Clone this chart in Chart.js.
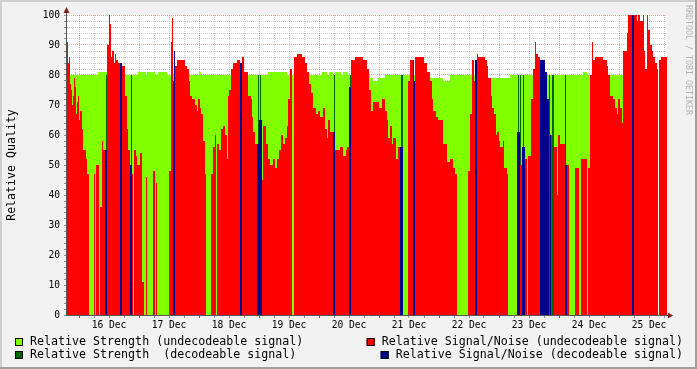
<!DOCTYPE html>
<html><head><meta charset="utf-8">
<script src="https://cdn.jsdelivr.net/npm/chart.js@4.4.1/dist/chart.umd.min.js"></script>
<style>html,body{margin:0;padding:0;background:#F2F2F2;overflow:hidden}canvas{display:block}</style>
</head><body>
<canvas id="c" width="697" height="369"></canvas>
<script>
// x unit = one 24-minute sample, sample 0 = 15 Dec 19:12
const totalSamples = 600;
const firstMidnightSample = 12;   // 16 Dec 00:00
const samplesPerDay = 60;
const samplesPer6h = 15;
const dayLabels = ['16 Dec','17 Dec','18 Dec','19 Dec','20 Dec','21 Dec','22 Dec','23 Dec','24 Dec','25 Dec'];
const yTickValues = [0,10,20,30,40,50,60,70,80,90,100];

// runs: [startSample, value] — value holds until the next run starts (null = no data)
const strengthUndecodeable = [
 [0,80],[8,81],[9,80],[31,81],[40,80],[71,81],[79,80],[80,81],[88,80],[91,81],[100,80],
 [132,81],[134,80],[201,81],[220,80],[255,81],[260,80],[262,81],[266,80],[268,81],[274,80],
 [276,81],[281,80],[303,79],[306,78],[311,79],[318,80],[363,79],[376,78],[383,80],
 [421,79],[443,80],[516,81],[520,80],[591,null],[592,80]
];
const snrUndecodeable = [
 [0,91],[1,84],[2,86],[3,77],[4,75],[5,70],[6,73],[7,79],[8,76],[9,67],[10,71],[11,73],
 [12,65],[13,68],[15,62],[16,55],[19,52],[20,47],[22,null],[27,47],[28,null],[29,50],
 [32,null],[33,36],[35,58],[36,55],[38,null],[40,90],[42,100],[43,97],[44,86],[45,88],
 [47,84],[48,87],[49,85],[51,84],[53,null],[55,83],[58,73],[60,62],[61,55],[63,null],
 [65,47],[66,null],[67,55],[69,53],[70,50],[73,54],[75,11],[77,null],[79,46],[80,null],
 [86,48],[88,null],[89,44],[90,null],[102,48],[104,91],[105,99],[106,null],[108,83],
 [110,85],[118,83],[120,82],[122,78],[123,73],[125,72],[128,70],[130,68],[131,72],
 [133,69],[134,67],[136,58],[138,47],[139,null],[144,47],[146,56],[148,60],[149,null],
 [150,57],[152,55],[154,62],[156,63],[158,60],[160,52],[161,73],[162,75],[164,82],
 [166,84],[170,85],[173,null],[175,86],[177,81],[181,73],[184,72],[185,66],[186,61],
 [188,57],[190,null],[195,45],[196,63],[199,57],[201,52],[203,50],[206,52],[208,49],
 [210,52],[212,55],[214,60],[216,57],[218,59],[220,63],[221,72],[223,82],[225,null],
 [227,86],[230,87],[235,86],[238,84],[240,81],[242,77],[244,74],[246,69],[249,67],
 [251,68],[253,66],[256,69],[258,62],[260,59],[261,65],[263,61],[266,null],[268,55],
 [273,56],[276,53],[279,55],[280,56],[282,null],[284,85],[288,86],[296,85],[300,82],
 [302,75],[304,68],[306,71],[312,69],[315,72],[318,68],[320,65],[321,59],[323,63],
 [325,57],[326,59],[329,52],[331,56],[333,null],[341,78],[343,85],[346,null],[348,86],
 [357,84],[360,81],[363,78],[365,72],[366,68],[369,66],[371,65],[376,57],[380,51],
 [383,52],[386,49],[388,47],[390,null],[401,48],[403,67],[405,85],[407,78],[408,null],
 [410,87],[411,86],[418,85],[420,83],[421,79],[424,73],[425,69],[427,67],[429,60],
 [430,61],[432,58],[433,56],[436,58],[437,49],[440,47],[441,null],[453,50],[455,null],
 [458,52],[460,null],[461,53],[464,72],[466,82],[468,91],[469,87],[471,86],[473,null],
 [484,60],[485,null],[487,56],[490,40],[491,60],[493,57],[498,null],[500,50],[502,null],
 [508,49],[512,null],[514,52],[520,null],[521,49],[523,80],[525,91],[526,85],[528,86],
 [536,85],[540,83],[541,80],[543,73],[546,72],[548,69],[550,67],[551,72],[553,69],
 [555,64],[556,88],[560,94],[561,100],[565,null],[567,100],[570,98],[571,100],[573,98],
 [576,100],[577,88],[578,82],[580,100],[581,95],[583,90],[585,88],[586,86],[588,84],
 [590,82],[591,null],[592,85],[594,86]
];
const strengthDecodeable = [
 [0,null],[39,80],[40,null],[64,80],[65,null],[191,80],[192,null],[193,80],[194,null],
 [267,80],[268,null],[283,80],[284,null],[334,80],[336,null],[451,80],[452,null],
 [453,80],[454,null],[456,80],[457,null],[482,80],[483,null],[485,80],[487,null],
 [498,80],[499,null]
];
const snrDecodeable = [
 [0,null],[38,55],[40,null],[53,84],[55,null],[63,50],[65,null],[106,78],[107,88],[108,null],
 [173,84],[175,null],[190,57],[192,65],[195,null],[266,61],[268,null],[282,76],[284,null],
 [333,56],[336,null],[346,85],[347,78],[348,null],[408,85],[410,null],[450,61],[453,null],
 [455,56],[458,null],[473,85],[478,81],[480,72],[482,null],[483,60],[484,null],
 [498,50],[500,null],[565,100],[567,null]
];

const GREEN = '#7FFF00', RED = '#FF0000', DGREEN = '#006400', BLUE = '#00008B';
const GRID = 'rgba(143,143,143,0.45)', MGRID = 'rgba(222,79,79,0.5)';
const MONO = '"DejaVu Sans Mono", monospace';

function toSteps(runs) {
  const pts = [];
  runs.forEach(([s, v], i) => {
    const next = runs[i + 1];
    const end = next ? next[0] : totalSamples;
    if (v === null) { pts.push({x: s, y: null}); return; }
    pts.push({x: s, y: v});
    if (!next || next[1] === null) pts.push({x: end, y: v});
  });
  return pts;
}
function ds(label, runs, color, order) {
  return {label, data: toSteps(runs), stepped: true, fill: 'origin', backgroundColor: color,
    borderColor: 'rgba(0,0,0,0)', borderWidth: 0, pointRadius: 0, pointHoverRadius: 0,
    spanGaps: false, order};
}
const sixHourTicks = [];
for (let v = firstMidnightSample; v < totalSamples; v += samplesPer6h) sixHourTicks.push(v);
const isMidnight = v => (v - firstMidnightSample) % samplesPerDay === 0;

const legendItems = [
  {text: 'Relative Strength (undecodeable signal)', color: GREEN, col: 0, row: 0},
  {text: 'Relative Signal/Noise (undecodeable signal)', color: RED, col: 1, row: 0},
  {text: 'Relative Strength  (decodeable signal)', color: DGREEN, col: 0, row: 1},
  {text: 'Relative Signal/Noise (decodeable signal)', color: BLUE, col: 1, row: 1}
];

const rrdDecor = {
  id: 'rrdDecor',
  beforeDraw(chart) {
    const {ctx, chartArea: a, width, height} = chart;
    ctx.save();
    ctx.fillStyle = '#F2F2F2'; ctx.fillRect(0, 0, width, height);
    ctx.fillStyle = '#FFFFFF'; ctx.fillRect(a.left, a.top, a.right - a.left, a.bottom - a.top);
    ctx.restore();
  },
  afterDraw(chart) {
    const {ctx, chartArea: a, width, height} = chart;
    ctx.save();
    ctx.fillStyle = '#CFCFCF'; ctx.fillRect(0, 0, width, 2); ctx.fillRect(0, 0, 2, height);
    ctx.fillStyle = '#9E9E9E'; ctx.fillRect(0, height - 2, width, 2); ctx.fillRect(width - 2, 0, 2, height);
    ctx.strokeStyle = '#555'; ctx.lineWidth = 1;
    ctx.beginPath();
    ctx.moveTo(a.left - 0.5, a.bottom + 0.5); ctx.lineTo(a.right + 3, a.bottom + 0.5);
    ctx.moveTo(a.left - 0.5, a.bottom + 0.5); ctx.lineTo(a.left - 0.5, a.top - 4);
    ctx.stroke();
    ctx.fillStyle = '#801F1F';
    ctx.beginPath();
    ctx.moveTo(a.left - 0.5, a.top - 8); ctx.lineTo(a.left - 3.5, a.top - 2); ctx.lineTo(a.left + 2.5, a.top - 2);
    ctx.closePath(); ctx.fill();
    ctx.beginPath();
    ctx.moveTo(a.right + 6, a.bottom + 0.5); ctx.lineTo(a.right + 1, a.bottom - 2.5); ctx.lineTo(a.right + 1, a.bottom + 3.5);
    ctx.closePath(); ctx.fill();
    ctx.font = '11.65px ' + MONO;
    ctx.textBaseline = 'alphabetic';
    legendItems.forEach(it => {
      const base = it.row === 0 ? 345 : 358;
      const tx = it.col === 0 ? 30 : 683 - ctx.measureText(it.text).width;
      const bx = tx - 15;
      ctx.fillStyle = it.color; ctx.fillRect(bx, base - 7, 8, 8);
      ctx.strokeStyle = '#000'; ctx.lineWidth = 1; ctx.strokeRect(bx + 0.5, base - 6.5, 7, 7);
      ctx.fillStyle = '#000'; ctx.textAlign = 'left'; ctx.fillText(it.text, tx, base);
    });
    ctx.translate(688.5, 5); ctx.rotate(Math.PI / 2);
    ctx.font = '8.3px ' + MONO; ctx.fillStyle = '#B4B4B4';
    ctx.textBaseline = 'middle'; ctx.textAlign = 'left';
    ctx.fillText('RRDTOOL / TOBI OETIKER', 0, 0);
    ctx.restore();
  }
};

new Chart(document.getElementById('c'), {
  type: 'line',
  data: {datasets: [
    ds('Relative Signal/Noise (decodeable signal)', snrDecodeable, BLUE, 0),
    ds('Relative Signal/Noise (undecodeable signal)', snrUndecodeable, RED, 1),
    ds('Relative Strength  (decodeable signal)', strengthDecodeable, DGREEN, 2),
    ds('Relative Strength (undecodeable signal)', strengthUndecodeable, GREEN, 3)
  ]},
  options: {
    responsive: false, animation: false, devicePixelRatio: 1,
    layout: {padding: {left: 0, right: 30, top: 15, bottom: 34}},
    plugins: {legend: {display: false}, tooltip: {enabled: false}},
    elements: {line: {tension: 0}},
    scales: {
      x: {
        type: 'linear', min: 0, max: totalSamples, z: 1,
        afterBuildTicks: s => { s.ticks = sixHourTicks.map(v => ({value: v})); },
        afterFit: s => { s.height = 20; },
        grid: {
          color: c => (c.tick && isMidnight(c.tick.value)) ? MGRID : GRID,
          tickColor: c => (c.tick && isMidnight(c.tick.value)) ? '#C04040' : '#909090',
          tickLength: 3, lineWidth: 1
        },
        border: {display: false, dash: [1, 1]},
        ticks: {
          autoSkip: false, maxRotation: 0, minRotation: 0, padding: 2, color: '#000',
          font: {family: MONO, size: 9.6},
          callback: v => {
            const k = (v - firstMidnightSample - samplesPerDay / 2) / samplesPerDay;
            return (Number.isInteger(k) && dayLabels[k]) ? dayLabels[k] : '';
          }
        }
      },
      y: {
        type: 'linear', min: 0, max: 100, z: 1,
        afterFit: s => { s.width = 67; },
        grid: {
          color: c => (c.tick && c.tick.value % 10 === 0) ? MGRID : GRID,
          tickColor: '#909090', tickLength: 3, lineWidth: 1
        },
        border: {display: false, dash: [1, 1]},
        ticks: {
          stepSize: 2, autoSkip: false, padding: 4, color: '#000',
          font: {family: MONO, size: 9.6},
          callback: v => yTickValues.includes(v) ? String(v) : ''
        },
        title: {display: true, text: 'Relative Quality', color: '#000',
          font: {family: MONO, size: 11.6}, padding: {top: 5, bottom: 0}}
      }
    }
  },
  plugins: [rrdDecor]
});
</script>
</body></html>
